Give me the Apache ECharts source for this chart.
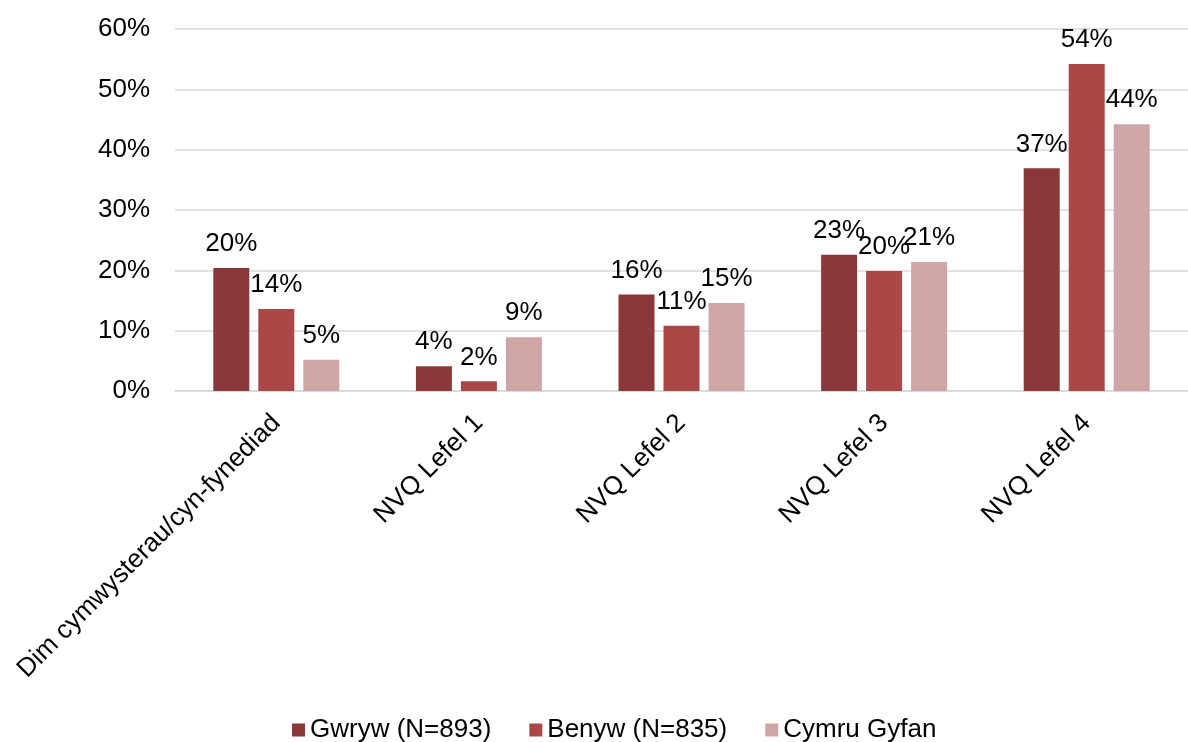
<!DOCTYPE html>
<html>
	<head>
		<meta charset="UTF-8">
		<script type="text/javascript" src="https://cdn.jsdelivr.net/npm/echarts@6/dist/echarts.min.js"></script>
		<style>
			html, body { margin: 0; padding: 0; background: #fff; }
			#chart { width: 1188px; height: 742px; }
		</style>
	</head>
	<body>
		<div id="chart"></div>
		<script type="text/javascript">
			var categories = ['Dim cymwysterau/cyn-fynediad', 'NVQ Lefel 1', 'NVQ Lefel 2', 'NVQ Lefel 3', 'NVQ Lefel 4'];
			var seriesNames = ['Gwryw (N=893)', 'Benyw (N=835)', 'Cymru Gyfan'];
			var gwryw = [20.4, 4.1, 16.0, 22.6, 36.9];
			var benyw = [13.6, 1.6, 10.8, 19.9, 54.2];
			var cymru = [5.2, 8.9, 14.6, 21.4, 44.2];
			var colors = ['#8a3838', '#a94847', '#cfa6a6'];

			var myChart = echarts.init(document.getElementById('chart'));

			function makeSeries(name, data, color) {
				return {
					name: name,
					type: 'bar',
					data: data,
					barWidth: 36,
					barGap: '25%',
					itemStyle: { color: color },
					label: {
						show: true,
						position: 'top',
						distance: 11,
						fontFamily: 'Liberation Sans',
						fontSize: 26,
						color: '#000',
						formatter: function (p) { return Math.round(p.value) + '%'; }
					}
				};
			}

			var option = {
				animation: false,
				textStyle: { fontFamily: 'Liberation Sans' },
				grid: { left: 175, right: 0, top: 29, bottom: 351 },
				legend: {
					top: 712,
					left: 287,
					data: seriesNames,
					itemWidth: 13,
					itemHeight: 13,
					itemGap: 38,
					icon: 'rect',
					textStyle: { fontSize: 26, color: '#000', fontFamily: 'Liberation Sans' }
				},
				xAxis: {
					type: 'category',
					data: categories,
					axisTick: { show: false },
					axisLine: { lineStyle: { color: '#d9d9d9', width: 1.5 } },
					axisLabel: {
						rotate: 45,
						interval: 0,
						margin: 28,
						fontSize: 26,
						color: '#000',
						fontFamily: 'Liberation Sans'
					}
				},
				yAxis: {
					type: 'value',
					min: 0,
					max: 60,
					interval: 10,
					axisLine: { show: false },
					axisTick: { show: false },
					splitLine: { lineStyle: { color: '#d9d9d9', width: 1.5 } },
					axisLabel: {
						formatter: '{value}%',
						margin: 25,
						fontSize: 26,
						color: '#000',
						fontFamily: 'Liberation Sans'
					}
				},
				series: [
					makeSeries(seriesNames[0], gwryw, colors[0]),
					makeSeries(seriesNames[1], benyw, colors[1]),
					makeSeries(seriesNames[2], cymru, colors[2])
				]
			};
			myChart.setOption(option);
		</script>
	</body>
</html>
